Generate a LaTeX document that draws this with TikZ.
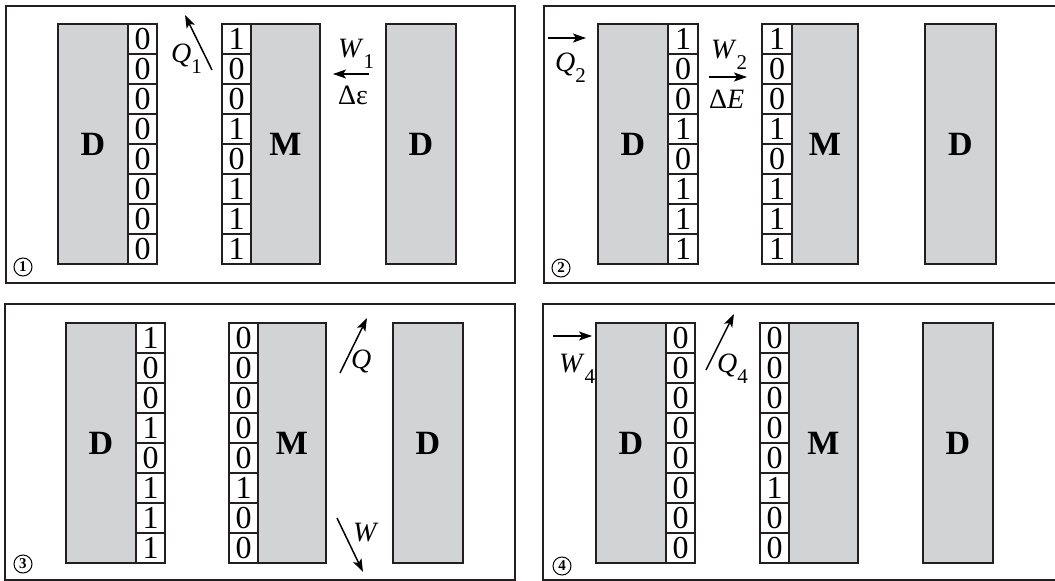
\documentclass[tikz,border=0pt]{standalone}
\usepackage{fontspec}
\setmainfont{Liberation Serif}
\usetikzlibrary{arrows.meta}
\definecolor{blockgray}{RGB}{209,211,212}
\definecolor{linec}{RGB}{35,31,32}
\newcommand\digfont{\fontsize{32}{32}\selectfont}
\newcommand\lblfont{\fontsize{28}{28}\selectfont}
\newcommand\bigfont{\fontsize{34}{34}\selectfont\bfseries}
\newcommand\numfont{\fontsize{15}{15}\selectfont\bfseries}
\newcommand\lsub[1]{\raisebox{-0.42em}{\fontsize{21}{21}\selectfont #1}}
\tikzset{
  blk/.style={draw=linec, fill=blockgray, line width=1.4pt, inner sep=0pt, minimum height=240pt, font=\bigfont},
  bitcell/.style={draw=linec, fill=white, line width=1.4pt, minimum width=29pt, minimum height=30pt, inner sep=0pt, font=\digfont},
  frm/.style={draw=linec, line width=1.4pt},
  lbl/.style={font=\lblfont, inner sep=0pt, anchor=base west},
  arr/.style={-{Stealth[length=13pt,width=9pt,inset=3pt]}, line width=1.5pt, draw=black},
  num/.style={circle, draw=black, line width=1pt, minimum size=18pt, inner sep=0pt, font=\numfont}
}
\begin{document}
\begin{tikzpicture}[x=1pt,y=-1pt]
\useasboundingbox (0,0) rectangle (1055,581);
% ---------- Panel 1 ----------
\draw[frm] (6,6) rectangle (515,283);
\node[blk, minimum width=70pt] (p1d) at (93,144) {D};
\foreach \v [count=\i] in {0,0,0,0,0,0,0,0}
  \node[bitcell] (p1l\i) at (142.5,{9+30*\i}) {\v};
\node[blk, minimum width=69pt] (p1m) at (285.5,144) {M};
\foreach \v [count=\i] in {1,0,0,1,0,1,1,1}
  \node[bitcell] (p1r\i) at (236.5,{9+30*\i}) {\v};
\node[blk, minimum width=70pt] (p1e) at (421,144) {D};
\node[num] (n1) at (23,267) {1};
\coordinate (q1s) at (212,70); \coordinate (q1e) at (185,15);
\draw[arr] (q1s) -- (q1e);
\node[lbl] (q1l) at (171,62) {\textit{Q}\lsub{1}};
\node[lbl] (w1l) at (338,57) {\textit{W}\lsub{1}};
\coordinate (w1s) at (369,74); \coordinate (w1e) at (333,74);
\draw[arr] (w1s) -- (w1e);
\node[lbl] (de1) at (338,104) {Δε};
% ---------- Panel 2 ----------
\draw[frm] (1056,6) -- (544,6) -- (544,283) -- (1056,283);
\node[blk, minimum width=70pt] (p2d) at (633,144) {D};
\foreach \v [count=\i] in {1,0,0,1,0,1,1,1}
  \node[bitcell, minimum width=30pt] (p2l\i) at (683,{9+30*\i}) {\v};
\node[blk, minimum width=66pt] (p2m) at (825,144) {M};
\foreach \v [count=\i] in {1,0,0,1,0,1,1,1}
  \node[bitcell, minimum width=30pt] (p2r\i) at (777,{9+30*\i}) {\v};
\node[blk, minimum width=71pt] (p2e) at (960.5,144) {D};
\node[num] (n2) at (561,268) {2};
\coordinate (q2s) at (548,38); \coordinate (q2e) at (586,38);
\draw[arr] (q2s) -- (q2e);
\node[lbl] (q2l) at (555,71) {\textit{Q}\lsub{2}};
\node[lbl] (w2l) at (711,58) {\textit{W}\lsub{2}};
\coordinate (w2s) at (709,77); \coordinate (w2e) at (747,77);
\draw[arr] (w2s) -- (w2e);
\node[lbl] (de2) at (709,108) {Δ\textit{E}};
% ---------- Panel 3 ----------
\draw[frm] (5,304) rectangle (515,580);
\node[blk, minimum width=70pt] (p3d) at (101,443) {D};
\foreach \v [count=\i] in {1,0,0,1,0,1,1,1}
  \node[bitcell] (p3l\i) at (150.5,{308+30*\i}) {\v};
\node[blk, minimum width=68pt] (p3m) at (292,443) {M};
\foreach \v [count=\i] in {0,0,0,0,0,1,0,0}
  \node[bitcell] (p3r\i) at (243.5,{308+30*\i}) {\v};
\node[blk, minimum width=70pt] (p3e) at (428,443) {D};
\node[num] (n3) at (23,564) {3};
\coordinate (q3s) at (340,373); \coordinate (q3e) at (367,318);
\draw[arr] (q3s) -- (q3e);
\node[lbl] (q3l) at (351,368) {\textit{Q}};
\coordinate (w3s) at (337,518); \coordinate (w3e) at (363,572);
\draw[arr] (w3s) -- (w3e);
\node[lbl] (w3l) at (353,541) {\textit{W}};
% ---------- Panel 4 ----------
\draw[frm] (1056,304) -- (543,304) -- (543,580) -- (1056,580);
\node[blk, minimum width=70pt] (p4d) at (631,443) {D};
\foreach \v [count=\i] in {0,0,0,0,0,0,0,0}
  \node[bitcell] (p4l\i) at (680.5,{308+30*\i}) {\v};
\node[blk, minimum width=69pt] (p4m) at (823.5,443) {M};
\foreach \v [count=\i] in {0,0,0,0,0,1,0,0}
  \node[bitcell] (p4r\i) at (774.5,{308+30*\i}) {\v};
\node[blk, minimum width=70pt] (p4e) at (958,443) {D};
\node[num] (n4) at (562,566) {4};
\coordinate (w4s) at (553,336); \coordinate (w4e) at (592,336);
\draw[arr] (w4s) -- (w4e);
\node[lbl] (w4l) at (559,372) {\textit{W}\lsub{4}};
\coordinate (q4s) at (706,370); \coordinate (q4e) at (734,314);
\draw[arr] (q4s) -- (q4e);
\node[lbl] (q4l) at (717,372) {\textit{Q}\lsub{4}};
\end{tikzpicture}
\end{document}
